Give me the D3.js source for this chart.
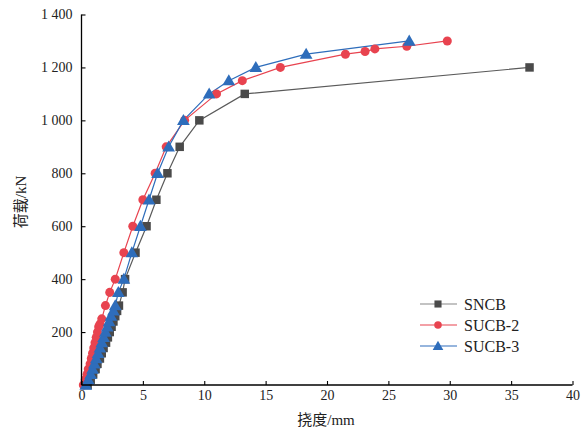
<!DOCTYPE html>
<html><head><meta charset="utf-8">
<script src="https://cdn.jsdelivr.net/npm/d3@7/dist/d3.min.js"></script>
<style>body{margin:0;background:#fff}svg{display:block}
svg text{font-family:"Liberation Serif","DejaVu Serif",serif;}
svg text.cjk{font-family:"Liberation Serif","DejaVu Serif","Noto Sans CJK SC",serif;}
</style>
</head><body>
<svg id="c" width="584" height="432"></svg>
<script>
const seriesNames = ["SNCB", "SUCB-2", "SUCB-3"];
const sncbX = [0.5,0.75,0.95,1.15,1.3,1.5,1.65,1.8,2.0,2.15,2.3,2.45,2.6,2.75,2.9,3.05,3.35,3.55,4.4,5.3,6.1,7.0,8.0,9.6,13.3,36.5];
const sncbY = [0,20,40,60,80,100,120,140,160,180,200,220,240,260,280,300,350,400,500,600,700,800,900,1000,1100,1200];
const sucb2X = [0.15,0.3,0.45,0.55,0.7,0.8,0.9,1.0,1.1,1.2,1.3,1.4,1.5,1.65,1.95,2.3,2.75,3.45,4.18,5.0,6.0,6.9,8.4,11.0,13.1,16.2,21.5,23.1,23.9,26.5,29.8];
const sucb2Y = [0,20,40,60,80,100,120,140,160,180,200,220,230,250,300,350,400,500,600,700,800,900,1000,1100,1150,1200,1250,1260,1270,1280,1300];
const sucb3X = [0.35,0.55,0.75,0.9,1.05,1.2,1.35,1.5,1.65,1.8,1.95,2.1,2.25,2.4,2.6,2.75,3.0,3.45,4.1,4.8,5.5,6.2,7.1,8.3,10.4,12.0,14.2,18.3,26.7];
const sucb3Y = [0,20,40,60,80,100,120,140,160,180,200,220,240,260,280,300,350,400,500,600,700,800,900,1000,1100,1150,1200,1250,1300];
const xTicks = [0,5,10,15,20,25,30,35,40];
const yTicks = [200,400,600,800,1000,1200,1400];
const yTickLabels = ["200","400","600","800","1 000","1 200","1 400"];
const xTitle = "挠度/mm";
const yTitle = "荷载/kN";

const colors = ["#4a4a4a", "#e8434f", "#2e6dbb"];
const lineColors = ["#5a5a5a", "#e8434f", "#2e6dbb"];
const symbols = [d3.symbolSquare, d3.symbolCircle, d3.symbolTriangle];
const symSizes = [72, 64, 70];

const svg = d3.select("#c");
const x = d3.scaleLinear().domain([0, 40]).range([81.5, 572.5]);
const y = d3.scaleLinear().domain([0, 1400]).range([385, 14.5]);

const data = [
  sncbX.map((v,i)=>[v,sncbY[i]]),
  sucb2X.map((v,i)=>[v,sucb2Y[i]]),
  sucb3X.map((v,i)=>[v,sucb3Y[i]])
];

const line = d3.line().x(d=>x(d[0])).y(d=>y(d[1]));
const g = svg.append("g");
data.forEach((s,k)=>{
  g.append("path").attr("d", line(s)).attr("fill","none")
   .attr("stroke", lineColors[k]).attr("stroke-width",1.2);
});
data.forEach((s,k)=>{
  g.selectAll(null).data(s).enter().append("path")
   .attr("d", d3.symbol().type(symbols[k]).size(symSizes[k]))
   .attr("transform", d=>`translate(${x(d[0])},${y(d[1]) + (k===2?1:0)})`)
   .attr("fill", colors[k]);
});

// axes
const xa = svg.append("g").attr("transform","translate(0,385)")
  .call(d3.axisBottom(x).tickValues(xTicks).tickSizeInner(-4).tickSizeOuter(0).tickPadding(5));
const ya = svg.append("g").attr("transform","translate(81.5,0)")
  .call(d3.axisLeft(y).tickValues(yTicks).tickFormat((d,i)=>yTickLabels[i]).tickSizeInner(-4).tickSizeOuter(0).tickPadding(9));
[xa,ya].forEach(a=>{
  a.attr("font-family",null);
  a.select(".domain").attr("stroke","#000").attr("stroke-width",1.3);
  a.selectAll(".tick line").attr("stroke","#000").attr("stroke-width",1.1);
  a.selectAll("text").attr("font-size",14).attr("fill","#222");
});
ya.select(".domain").attr("d","M0,385V14.5");
xa.select(".domain").attr("d","M81.5,0H572.5");

svg.append("text").attr("class","cjk").attr("x",326).attr("y",425).attr("text-anchor","middle")
  .attr("font-size",15).attr("fill","#222").text(xTitle);
svg.append("text").attr("class","cjk").attr("transform","translate(26,202) rotate(-90)").attr("text-anchor","middle")
  .attr("font-size",15).attr("fill","#222").text(yTitle);

// legend
const leg = svg.append("g");
seriesNames.forEach((n,k)=>{
  const yy = 304 + k*21;
  leg.append("line").attr("x1",420).attr("x2",457).attr("y1",yy).attr("y2",yy)
    .attr("stroke", k===0?"#888":lineColors[k]).attr("stroke-width",1.2);
  leg.append("path").attr("d", d3.symbol().type(symbols[k]).size(symSizes[k]*0.7))
    .attr("transform",`translate(438,${yy + (k===2?1:0)})`).attr("fill",colors[k]);
  leg.append("text").attr("x",464).attr("y",yy+6)
    .attr("font-size",16).attr("fill","#222").text(n);
});
</script>
</body></html>
